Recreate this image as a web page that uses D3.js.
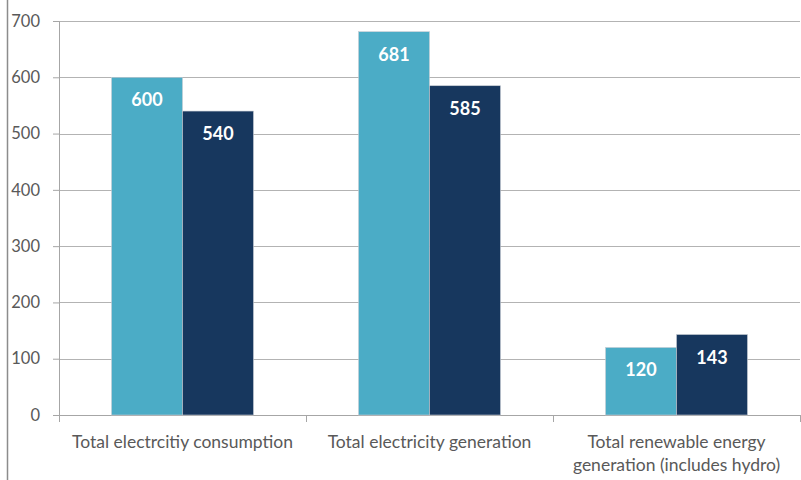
<!DOCTYPE html>
<html>
<head>
<meta charset="utf-8">
<script src="https://cdn.jsdelivr.net/npm/d3@7"></script>
<style>
  body { margin: 0; background: #fff; }
  text { font-family: Lato, "Open Sans", sans-serif; }
</style>
</head>
<body>
<div id="chart"></div>
<script>
var categories = [
  ["Total electrcitiy consumption"],
  ["Total electricity generation"],
  ["Total renewable energy", "generation (includes hydro)"]
];
var seriesA = [600, 681, 120];
var seriesB = [540, 585, 143];
var yTicks = [0, 100, 200, 300, 400, 500, 600, 700];

var svg = d3.select("#chart").append("svg")
    .attr("width", 801)
    .attr("height", 480),
    margin = {top: 21, right: 1, bottom: 65, left: 59},
    width = 801 - margin.left - margin.right,
    height = 480 - margin.top - margin.bottom,
    g = svg.append("g").attr("transform", "translate(" + margin.left + "," + margin.top + ")");

// left frame line
svg.append("line")
    .attr("x1", 7.5).attr("x2", 7.5)
    .attr("y1", 0).attr("y2", 480)
    .attr("stroke", "#8c8c8c")
    .attr("stroke-width", 1.5);

var x = d3.scaleBand()
    .domain(d3.range(categories.length))
    .range([0, width]);

var inner = d3.scaleBand()
    .domain([0, 1])
    .range([0, x.bandwidth()])
    .paddingOuter(0.74)
    .paddingInner(0);

var y = d3.scaleLinear()
    .domain([0, 700])
    .range([height, 0]);

// gridlines
g.append("g")
  .selectAll("line")
  .data(yTicks.filter(function(d) { return d > 0; }))
  .enter().append("line")
    .attr("x1", 0).attr("x2", width)
    .attr("y1", function(d) { return Math.round(y(d)) + 0.5; })
    .attr("y2", function(d) { return Math.round(y(d)) + 0.5; })
    .attr("stroke", "#b3b3b3");

// y axis
var yAxis = g.append("g")
    .call(d3.axisLeft(y).tickValues(yTicks).tickSize(6).tickPadding(13));
yAxis.select(".domain").attr("stroke", "#a6a6a6");
yAxis.selectAll(".tick line").attr("stroke", "#a6a6a6");
yAxis.selectAll(".tick text")
    .attr("fill", "#595959")
    .style("font-size", "16.5px")
    .style("font-family", "Lato, sans-serif");

// x axis
var xAxis = g.append("g")
    .attr("transform", "translate(0," + height + ")");
xAxis.append("line")
    .attr("x1", 0).attr("x2", width)
    .attr("y1", 0.5).attr("y2", 0.5)
    .attr("stroke", "#a6a6a6");
xAxis.selectAll(".xt")
  .data(d3.range(categories.length + 1))
  .enter().append("line")
    .attr("x1", function(d) { return Math.round(d * x.step()) + 0.5; })
    .attr("x2", function(d) { return Math.round(d * x.step()) + 0.5; })
    .attr("y1", 0).attr("y2", 7)
    .attr("stroke", "#a6a6a6");

var labels = xAxis.selectAll(".xl")
  .data(categories)
  .enter().append("text")
    .attr("text-anchor", "middle")
    .attr("fill", "#595959")
    .style("font-size", "17.5px")
    .attr("transform", function(d, i) { return "translate(" + (x(i) + x.bandwidth() / 2) + ",33)"; });
labels.selectAll("tspan")
  .data(function(d) { return d; })
  .enter().append("tspan")
    .attr("x", 0)
    .attr("dy", function(d, i) { return i === 0 ? 0 : 23; })
    .text(function(d) { return d; });

// bars
var groups = g.selectAll(".grp")
  .data(categories.map(function(c, i) { return [seriesA[i], seriesB[i]]; }))
  .enter().append("g")
    .attr("transform", function(d, i) { return "translate(" + x(i) + ",0)"; });

var colors = ["#4bacc6", "#17375e"];

groups.selectAll("rect")
  .data(function(d) { return d; })
  .enter().append("rect")
    .attr("x", function(d, i) { return inner(i); })
    .attr("y", function(d) { return y(d); })
    .attr("width", inner.bandwidth())
    .attr("height", function(d) { return height - y(d); })
    .attr("fill", function(d, i) { return colors[i]; })
    .attr("stroke", "#c8cdd4")
    .attr("stroke-width", 0.6);

groups.selectAll(".val")
  .data(function(d) { return d; })
  .enter().append("text")
    .attr("x", function(d, i) { return inner(i) + inner.bandwidth() / 2; })
    .attr("y", function(d) { return y(d) + 29; })
    .attr("text-anchor", "middle")
    .attr("fill", "#fff")
    .style("font-size", "18px")
    .style("font-weight", "bold")
    .text(function(d) { return d; });
</script>
</body>
</html>
